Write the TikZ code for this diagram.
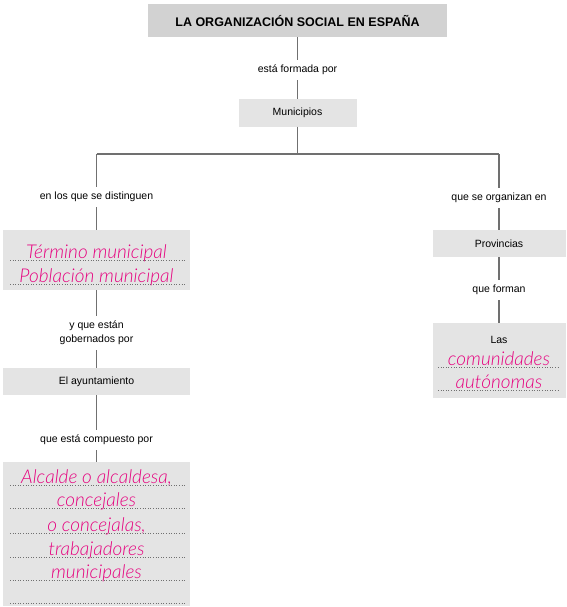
\documentclass[tikz,border=0pt]{standalone}
\usepackage{fontspec}
\setmainfont{Liberation Sans}
\newfontfamily\handfont{Lato Light}
\usetikzlibrary{positioning, calc}

\definecolor{titlegray}{HTML}{D2D2D2}
\definecolor{boxgray}{HTML}{E4E4E4}
\definecolor{linegray}{HTML}{707070}
\definecolor{pink}{HTML}{E6007E}

\begin{document}
\begin{tikzpicture}[
  x=1pt, y=-1pt,
  box/.style={
    fill=boxgray,
    minimum width=187pt,
    minimum height=27pt,
    inner sep=0pt,
    font=\fontsize{10.5}{12}\selectfont
  },
  lbl/.style={
    align=center,
    inner sep=5pt,
    font=\fontsize{10.5}{14}\selectfont
  },
  hand/.style={
    anchor=base,
    inner sep=0pt,
    text=pink,
    font=\handfont\itshape\fontsize{19}{22}\selectfont
  },
  link/.style={draw=linegray, line width=1.4pt},
  dotline/.style={draw=linegray, dotted, line width=0.6pt}
]
\useasboundingbox (0,0) rectangle (566,607);

% Top
\node[box, fill=titlegray, minimum width=299pt, minimum height=33pt,
  font=\bfseries\fontsize{12.5}{14}\selectfont] (title) at (297.5,20.5)
  {LA ORGANIZACIÓN SOCIAL EN ESPAÑA};
\node[lbl] (formada) at (297.5,70) {está formada por};
\node[box, minimum width=118pt] (muni) at (297.5,113) {Municipios};

% Branch
\coordinate (split) at (297.5,154);
\coordinate (splitL) at (96.5,154);
\coordinate (splitR) at (499,154);

% Left column
\node[lbl] (distinguen) at (96.5,197) {en los que se distinguen};
\node[box, minimum height=60pt] (term) at (96.5,260) {};
\node[lbl] (gobernados) at (96.5,333) {y que están\\gobernados por};
\node[box] (ayto) at (96.5,381.5) {El ayuntamiento};
\node[lbl] (compuesto) at (96.5,440) {que está compuesto por};
\node[box, minimum height=144pt] (alcalde) at (96.5,534) {};

% Right column
\node[lbl] (organizan) at (499,198) {que se organizan en};
\node[box, minimum width=133pt] (prov) at (499,243.5) {Provincias};
\node[lbl] (forman) at (499,290) {que forman};
\node[box, minimum width=133pt, minimum height=75pt] (ccaa) at (499,360.5) {};

% Dotted lines
\foreach \y in {260,284}
  \draw[dotline] (10,\y) -- (185,\y);
\foreach \y in {485,508,533,557,580,603}
  \draw[dotline] (10,\y) -- (185,\y);
\foreach \y in {367,390}
  \draw[dotline] (438,\y) -- (558,\y);

% Pink answers
\node[hand] (t1) at (96.5,258) {Término municipal};
\node[hand] (t2) at (96.5,282) {Población municipal};
\node[hand] (a1) at (96.5,483) {Alcalde o alcaldesa,};
\node[hand] (a2) at (96.5,506) {concejales};
\node[hand] (a3) at (96.5,531) {o concejalas,};
\node[hand] (a4) at (96.5,555) {trabajadores};
\node[hand] (a5) at (96.5,578) {municipales};
\node[lbl, inner sep=0pt] (las) at (499,340) {Las};
\node[hand] (c1) at (499,365) {comunidades};
\node[hand] (c2) at (499,388) {autónomas};

% Connectors
\draw[link] (title) -- (formada);
\draw[link] (formada) -- (muni);
\draw[link] (muni) -- (split);
\draw[link] (splitL) -- (splitR);
\draw[link] (splitL) -- (distinguen);
\draw[link] (distinguen) -- (term);
\draw[link] (term) -- (gobernados);
\draw[link] (gobernados) -- (ayto);
\draw[link] (ayto) -- (compuesto);
\draw[link] (compuesto) -- (alcalde);
\draw[link] (splitR) -- (organizan);
\draw[link] (organizan) -- (prov);
\draw[link] (prov) -- (forman);
\draw[link] (forman) -- (ccaa);

\end{tikzpicture}
\end{document}
